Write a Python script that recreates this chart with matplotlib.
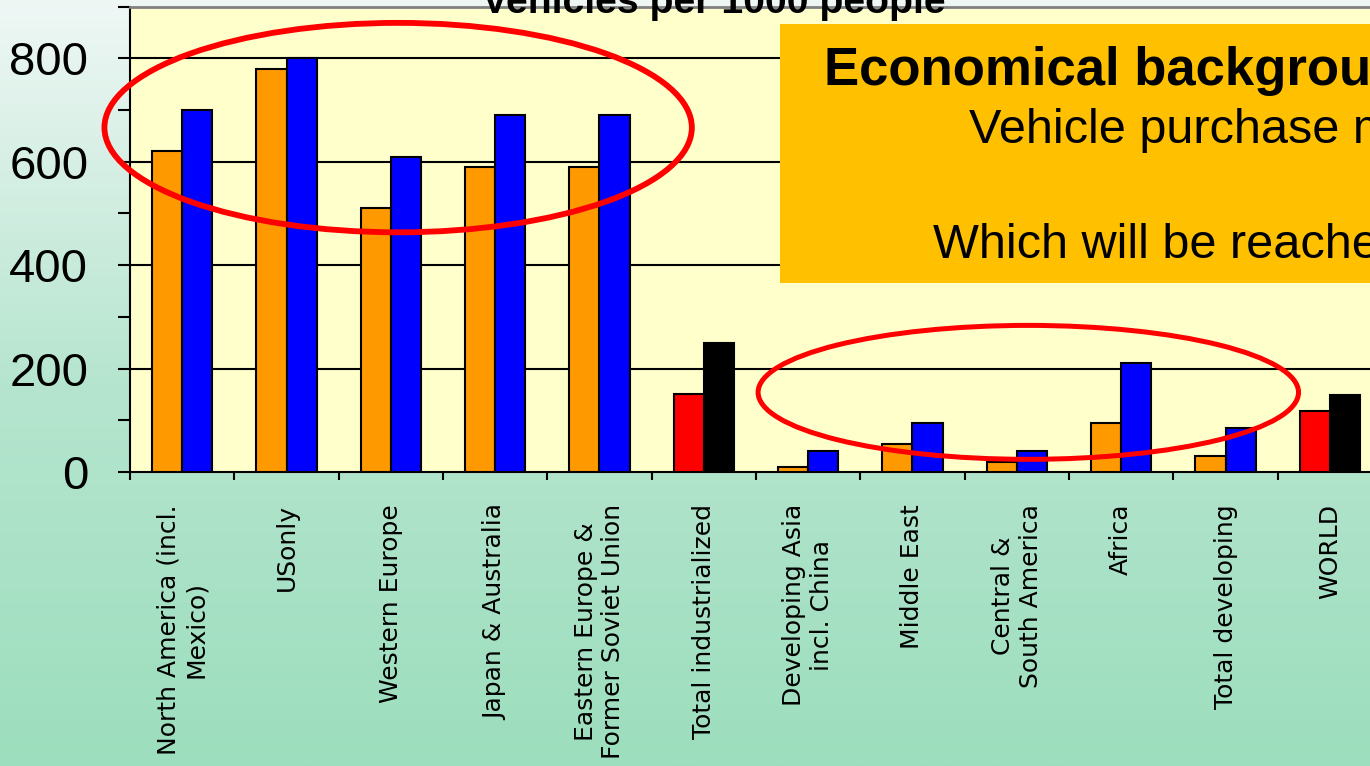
import numpy as np
import matplotlib
matplotlib.use("Agg")
import matplotlib.pyplot as plt
from matplotlib.patches import Ellipse, Rectangle
from matplotlib.colors import LinearSegmentedColormap

# --- data -------------------------------------------------------------
regions = [
    "North America (incl.\nMexico)",
    "USonly",
    "Western Europe",
    "Japan & Australia",
    "Eastern Europe &\nFormer Soviet Union",
    "Total industrialized",
    "Developing Asia\nincl. China",
    "Middle East",
    "Central &\nSouth America",
    "Africa",
    "Total developing",
    "WORLD",
]
vehicles_now = [620, 780, 510, 590, 590, 150, 10, 55, 20, 95, 30, 117]
vehicles_future = [700, 800, 610, 690, 690, 250, 40, 95, 40, 210, 85, 148]
total_rows = [5, 11]

y_ticks = [0, 200, 400, 600, 800]
y_minor = [100, 300, 500, 700, 900]

# --- figure -----------------------------------------------------------
W, H = 1370, 766
fig = plt.figure(figsize=(W / 100, H / 100), dpi=100)

# soft vertical background gradient
bg = fig.add_axes([0, 0, 1, 1], zorder=-5)
grad = np.linspace(0, 1, 256).reshape(-1, 1)
cmap = LinearSegmentedColormap.from_list("bg", ["#eff7f5", "#b6e5cf", "#9cdebd"])
bg.imshow(grad, aspect="auto", cmap=cmap, extent=[0, 1, 0, 1], origin="upper")
bg.set_axis_off()

# plot area: left edge at x=130 px, zero line at y=472 px
x_left, x_right = 130, 1382
y_zero = 472
px_per_unit = (472 - 58.3) / 800
y_top = y_zero - 900 * px_per_unit
ax = fig.add_axes([x_left / W, 1 - y_zero / H,
                   (x_right - x_left) / W, (y_zero - y_top) / H])
ax.set_facecolor("#ffffcc")

n = len(regions)
x = np.arange(n)
bw = 0.29
c1 = ["#ff0000" if i in total_rows else "#ff9900" for i in range(n)]
c2 = ["#000000" if i in total_rows else "#0000ff" for i in range(n)]
ax.bar(x - bw / 2, vehicles_now, width=bw, color=c1, edgecolor="black",
       linewidth=1.5, zorder=3)
ax.bar(x + bw / 2, vehicles_future, width=bw, color=c2, edgecolor="black",
       linewidth=1.5, zorder=3)

ax.set_xlim(-0.5, n - 0.5)
ax.set_ylim(0, 900)

# gridlines
for v in y_ticks[1:]:
    ax.axhline(v, color="black", linewidth=1.5, zorder=1)

# y axis
ax.set_yticks(y_ticks)
ax.set_yticks(y_minor, minor=True)
ax.set_yticklabels([str(v) for v in y_ticks],
                   fontfamily="Liberation Sans", fontsize=34)
ax.tick_params(axis="y", which="both", direction="out", length=9,
               width=1.5, color="black", pad=21)

# x axis: ticks at category boundaries, labels at centres
ax.set_xticks(np.arange(-0.5, n, 1.0))
ax.set_xticklabels([])
ax.set_xticks(x, minor=True)
ax.set_xticklabels(regions, minor=True, rotation=90, fontsize=18,
                   fontfamily="DejaVu Sans", multialignment="center")
ax.tick_params(axis="x", which="major", direction="out", length=6, width=1.5)
ax.tick_params(axis="x", which="minor", length=0, pad=23)

for s in ["left", "bottom"]:
    ax.spines[s].set_color("black")
    ax.spines[s].set_linewidth(1.5)
ax.spines["top"].set_color("#808080")
ax.spines["top"].set_linewidth(2)
ax.spines["right"].set_visible(False)

# highlight rings
ring_a = Ellipse((2.07, 666), width=5.63, height=405, fill=False,
                 edgecolor="#ff0000", linewidth=4.2, zorder=5, clip_on=False)
ring_b = Ellipse((8.11, 154), width=5.18, height=259, fill=False,
                 edgecolor="#ff0000", linewidth=3.6, zorder=5, clip_on=False)
ax.add_patch(ring_a)
ax.add_patch(ring_b)

# title
fig.text(714 / W, 1 - 13 / H, "Vehicles per 1000 people", ha="center",
         va="baseline", fontsize=28.2, fontweight="bold",
         fontfamily="Liberation Sans", zorder=10)

# callout box
fig.patches.append(Rectangle((780 / W, 1 - 283 / H), 0.45, (283 - 24) / H,
                             transform=fig.transFigure, facecolor="#ffc000",
                             edgecolor="none", zorder=6))
fig.text(824 / W, 1 - 85 / H, "Economical background", ha="left",
         va="baseline", fontsize=38, fontweight="bold",
         fontfamily="Liberation Sans", zorder=10)
fig.text(969 / W, 1 - 143 / H, "Vehicle purchase m", ha="left",
         va="baseline", fontsize=35, fontfamily="Liberation Sans", zorder=10)
fig.text(933 / W, 1 - 258 / H, "Which will be reached", ha="left",
         va="baseline", fontsize=35, fontfamily="Liberation Sans", zorder=10)

fig.savefig("out.png", dpi=100)
